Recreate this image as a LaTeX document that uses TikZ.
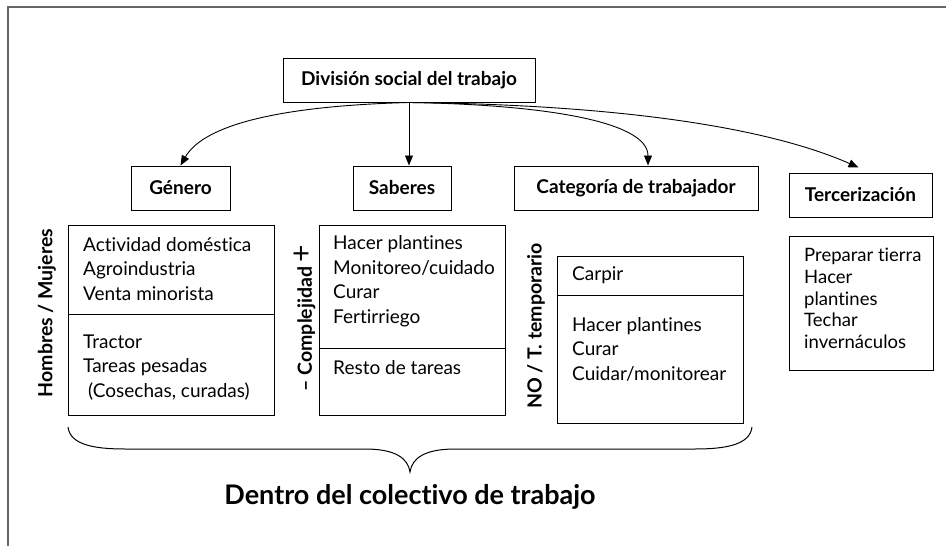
\documentclass[tikz,border=0pt]{standalone}
\usepackage{fontspec}
\setmainfont{Lato}[Ligatures=NoCommon]
\usetikzlibrary{arrows.meta,positioning}

\begin{document}
\begin{tikzpicture}[x=1pt, y=-1pt, >={Triangle[length=10pt,width=8pt]},
  head/.style={draw, line width=1pt, font=\bfseries\fontsize{19}{22}\selectfont, minimum height=44pt, inner sep=0pt},
  panel/.style={draw, line width=1pt, inner sep=0pt},
  items/.style={anchor=west, align=left, inner sep=0pt, font=\fontsize{19}{24.5}\selectfont},
  side/.style={rotate=90, inner sep=0pt, font=\bfseries\fontsize{19.5}{22}\selectfont}]
  \useasboundingbox (0,0) rectangle (946,546);
  % Frame
  \draw[black!60, line width=1.5pt] (946,7) -- (8,7) -- (8,546);
  % Headings
  \node[head, minimum width=252pt] (top) at (409,80) {División social del trabajo};
  \node[head, minimum width=99pt] (gen) at (180.5,188) {Género};
  \node[head, minimum width=98pt] (sab) at (402,188) {Saberes};
  \node[head, minimum width=244pt] (cat) at (636,188) {Categoría de trabajador};
  \node[head, minimum width=143pt] (ter) at (860.5,195) {Tercerización};
  % Arrows
  \draw[->, line width=0.9pt] (top.south) .. controls +(-150,4) and +(20,-35) .. (gen.north);
  \draw[->, line width=0.9pt] (top.south) -- (top.south |- sab.north);
  \draw[->, line width=0.9pt] (top.south) .. controls +(130,2) and +(0,-45) .. ([xshift=12pt]cat.north);
  \draw[->, line width=0.9pt] (top.south) .. controls +(200,2) and +(-95,-42) .. ([xshift=-2pt,yshift=5pt]ter.north);
  % Panels
  \node[panel, minimum width=206pt, minimum height=190pt] (genbox) at (171,320) {};
  \draw[line width=1pt] (genbox.west |- 0,314) -- (genbox.east |- 0,314);
  \node[panel, minimum width=186pt, minimum height=190pt] (sabbox) at (412,320) {};
  \draw[line width=1pt] (sabbox.west |- 0,348) -- (sabbox.east |- 0,348);
  \node[panel, minimum width=186pt, minimum height=167pt] (catbox) at (650,339.5) {};
  \draw[line width=1pt] (catbox.west |- 0,295) -- (catbox.east |- 0,295);
  \node[panel, minimum width=144pt, minimum height=134pt] (terbox) at (861,303) {};
  % Items
  \node[items] (genup) at (83,269) {Actividad doméstica\\Agroindustria\\Venta minorista};
  \node[items] (gendown) at (83,367.5) {Tractor\\Tareas pesadas\\\hspace*{5pt}(Cosechas, curadas)};
  \node[items] (sabup) at (333,281) {Hacer plantines\\Monitoreo/cuidado\\Curar\\Fertirriego};
  \node[items] (sabdown) at (333,368) {Resto de tareas};
  \node[items] (catup) at (572,275) {Carpir};
  \node[items] (catdown) at (572,349) {Hacer plantines\\Curar\\Cuidar/monitorear};
  \node[items, font=\fontsize{18.5}{21.75}\selectfont] (terlist) at (804,298.5) {Preparar tierra\\Hacer\\plantines\\Techar\\invernáculos};
  % Side labels
  \node[side] (hm) at (47,313) {Hombres / Mujeres};
  \node[side] (cx) at (305,318) {– Complejidad {\mdseries\fontsize{30}{30}\selectfont +}};
  \node[side] (nt) at (536,326) {NO / T. temporario};
  % Brace
  \draw[line width=1pt] (68,427) .. controls (70,445) and (95,449) .. (125,449) -- (365,449)
    .. controls (395,449) and (408,458) .. (410,472) .. controls (412,458) and (425,449) .. (455,449)
    -- (695,449) .. controls (725,449) and (750,445) .. (752,427);
  \node[font=\bfseries\fontsize{27}{30}\selectfont] (dentro) at (410,497) {Dentro del colectivo de trabajo};
\end{tikzpicture}
\end{document}
